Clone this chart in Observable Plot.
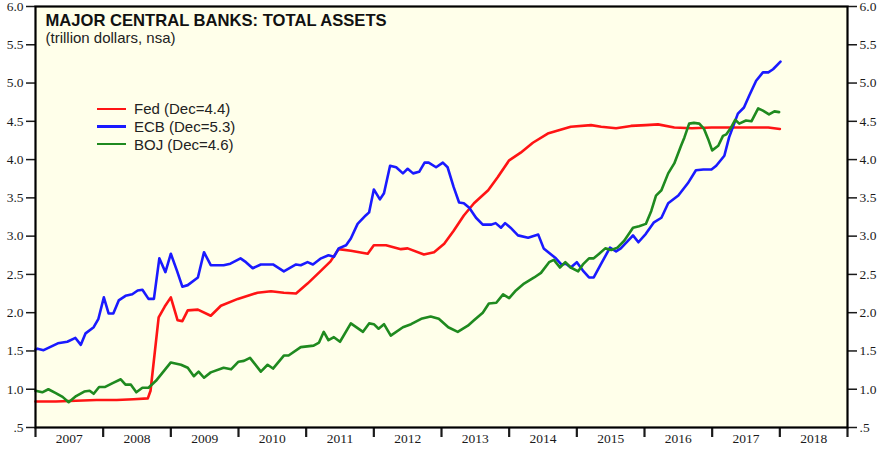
<!DOCTYPE html>
<html><head><meta charset="utf-8">
<script src="https://cdn.jsdelivr.net/npm/d3@7"></script>
<script src="https://cdn.jsdelivr.net/npm/@observablehq/plot@0.6"></script>
<style>
body{margin:0;background:#fff}
#wrap{position:relative;width:886px;height:451px}
#legend{position:absolute;left:97px;top:100px;font-family:"Liberation Sans",Arial,sans-serif;font-size:15px;color:#222}
.row{display:flex;align-items:center;height:17.7px;white-space:nowrap}
.sw{width:29px;height:2.5px;margin-right:8px}
</style></head>
<body><div id="wrap"></div>
<script>
const titleText = "MAJOR CENTRAL BANKS: TOTAL ASSETS";
const subtitleText = "(trillion dollars, nsa)";
const seriesNames = ["Fed (Dec=4.4)", "ECB (Dec=5.3)", "BOJ (Dec=4.6)"];
const seriesColors = ["#ff1414", "#1a1aff", "#1f8a1f"];
const yTicks = [0.5,1,1.5,2,2.5,3,3.5,4,4.5,5,5.5,6];
const yearTicks = [2007,2008,2009,2010,2011,2012,2013,2014,2015,2016,2017,2018,2019];
const yearLabels = [2007,2008,2009,2010,2011,2012,2013,2014,2015,2016,2017,2018];

// [decimal year, trillion dollars]
const fed = [[2007.00,0.84],[2007.30,0.84],[2007.60,0.85],[2007.90,0.86],[2008.20,0.86],[2008.45,0.87],[2008.66,0.88],[2008.70,0.98],[2008.82,1.94],[2008.91,2.08],[2009.00,2.20],[2009.10,1.90],[2009.17,1.89],[2009.25,2.03],[2009.40,2.04],[2009.59,1.96],[2009.74,2.09],[2009.99,2.18],[2010.28,2.26],[2010.48,2.28],[2010.67,2.26],[2010.85,2.25],[2011.02,2.38],[2011.22,2.55],[2011.36,2.67],[2011.48,2.83],[2011.66,2.81],[2011.91,2.77],[2012.00,2.88],[2012.18,2.88],[2012.40,2.83],[2012.50,2.84],[2012.74,2.76],[2012.89,2.79],[2013.04,2.90],[2013.18,3.07],[2013.33,3.27],[2013.48,3.43],[2013.69,3.60],[2013.83,3.77],[2014.00,3.99],[2014.17,4.09],[2014.35,4.22],[2014.57,4.34],[2014.91,4.43],[2015.21,4.45],[2015.36,4.43],[2015.58,4.41],[2015.80,4.44],[2016.02,4.45],[2016.20,4.46],[2016.44,4.42],[2016.70,4.41],[2016.99,4.42],[2017.30,4.42],[2017.58,4.42],[2017.83,4.42],[2018.00,4.40]];

const ecb = [[2007.00,1.52],[2007.03,1.53],[2007.12,1.51],[2007.33,1.60],[2007.47,1.62],[2007.59,1.67],[2007.67,1.58],[2007.74,1.73],[2007.86,1.81],[2007.93,1.92],[2008.01,2.20],[2008.08,1.99],[2008.15,1.99],[2008.23,2.16],[2008.33,2.22],[2008.43,2.24],[2008.51,2.29],[2008.58,2.30],[2008.67,2.18],[2008.75,2.18],[2008.83,2.71],[2008.92,2.53],[2009.00,2.77],[2009.09,2.55],[2009.17,2.34],[2009.25,2.36],[2009.40,2.46],[2009.49,2.79],[2009.59,2.62],[2009.78,2.62],[2009.88,2.64],[2010.03,2.71],[2010.11,2.66],[2010.21,2.58],[2010.33,2.63],[2010.51,2.63],[2010.67,2.54],[2010.85,2.63],[2010.92,2.62],[2011.02,2.66],[2011.10,2.63],[2011.22,2.71],[2011.33,2.75],[2011.41,2.73],[2011.48,2.84],[2011.59,2.88],[2011.66,2.97],[2011.76,3.16],[2011.88,3.27],[2011.93,3.31],[2012.00,3.61],[2012.09,3.48],[2012.15,3.56],[2012.24,3.92],[2012.33,3.90],[2012.43,3.82],[2012.50,3.88],[2012.58,3.82],[2012.67,3.84],[2012.75,3.96],[2012.81,3.96],[2012.92,3.90],[2013.02,3.96],[2013.09,3.90],[2013.18,3.64],[2013.26,3.44],[2013.33,3.43],[2013.41,3.37],[2013.51,3.24],[2013.61,3.15],[2013.73,3.15],[2013.80,3.17],[2013.88,3.11],[2013.94,3.17],[2014.02,3.11],[2014.13,3.01],[2014.28,2.98],[2014.43,3.02],[2014.51,2.84],[2014.62,2.76],[2014.69,2.71],[2014.77,2.63],[2014.84,2.64],[2014.91,2.59],[2015.00,2.66],[2015.09,2.55],[2015.18,2.46],[2015.25,2.46],[2015.36,2.64],[2015.49,2.85],[2015.58,2.80],[2015.65,2.84],[2015.80,2.98],[2015.83,3.01],[2015.91,2.92],[2016.02,3.03],[2016.14,3.18],[2016.25,3.24],[2016.35,3.43],[2016.50,3.53],[2016.64,3.69],[2016.76,3.86],[2016.87,3.87],[2016.99,3.87],[2017.06,3.92],[2017.18,4.05],[2017.25,4.29],[2017.38,4.60],[2017.47,4.68],[2017.55,4.84],[2017.65,5.03],[2017.75,5.14],[2017.83,5.14],[2017.90,5.18],[2018.01,5.28]];

const boj = [[2007.00,0.98],[2007.10,0.96],[2007.19,1.00],[2007.30,0.95],[2007.40,0.90],[2007.49,0.83],[2007.60,0.91],[2007.72,0.97],[2007.80,0.98],[2007.86,0.94],[2007.94,1.03],[2008.03,1.03],[2008.14,1.08],[2008.26,1.13],[2008.33,1.06],[2008.41,1.06],[2008.49,0.96],[2008.58,1.02],[2008.67,1.02],[2008.78,1.11],[2009.00,1.35],[2009.15,1.32],[2009.25,1.28],[2009.34,1.17],[2009.41,1.23],[2009.49,1.15],[2009.59,1.22],[2009.78,1.28],[2009.89,1.26],[2010.00,1.36],[2010.08,1.37],[2010.17,1.41],[2010.33,1.23],[2010.43,1.32],[2010.51,1.27],[2010.67,1.44],[2010.74,1.44],[2010.92,1.55],[2011.11,1.57],[2011.19,1.61],[2011.26,1.75],[2011.33,1.64],[2011.41,1.68],[2011.50,1.62],[2011.66,1.86],[2011.84,1.75],[2011.93,1.86],[2012.00,1.85],[2012.07,1.79],[2012.15,1.85],[2012.25,1.70],[2012.43,1.81],[2012.55,1.85],[2012.70,1.92],[2012.84,1.95],[2012.96,1.92],[2013.10,1.81],[2013.24,1.75],[2013.39,1.83],[2013.48,1.90],[2013.61,2.00],[2013.70,2.12],[2013.81,2.13],[2013.91,2.24],[2014.00,2.19],[2014.10,2.29],[2014.22,2.38],[2014.37,2.46],[2014.47,2.52],[2014.59,2.66],[2014.66,2.69],[2014.75,2.59],[2014.83,2.66],[2014.91,2.59],[2015.02,2.54],[2015.09,2.63],[2015.18,2.71],[2015.25,2.71],[2015.33,2.77],[2015.42,2.84],[2015.51,2.82],[2015.60,2.85],[2015.70,2.94],[2015.83,3.11],[2015.92,3.13],[2016.02,3.16],[2016.10,3.33],[2016.17,3.53],[2016.25,3.60],[2016.35,3.82],[2016.44,3.95],[2016.54,4.18],[2016.59,4.29],[2016.66,4.47],[2016.73,4.48],[2016.81,4.47],[2016.88,4.40],[2016.94,4.27],[2017.00,4.12],[2017.09,4.18],[2017.16,4.31],[2017.21,4.33],[2017.28,4.42],[2017.34,4.52],[2017.40,4.47],[2017.50,4.51],[2017.58,4.50],[2017.68,4.67],[2017.75,4.64],[2017.84,4.59],[2017.92,4.63],[2017.99,4.62]];

const seriesData = [fed, ecb, boj];
const rows = seriesData.flatMap((s, i) => s.map(([t, v]) => ({t, v, name: seriesNames[i]})));
const fmt = d => d === 0.5 ? ".5" : d.toFixed(1);
const axisFont = {fontFamily: "Liberation Serif, Times New Roman, serif", fontSize: 13.5};

const chart = Plot.plot({
  width: 886, height: 451,
  marginLeft: 35, marginRight: 39, marginTop: 6, marginBottom: 24,
  style: {background: "#fff", color: "#1a1a1a", overflow: "visible"},
  x: {domain: [2007, 2019], axis: null},
  y: {domain: [0.5, 6], axis: null},
  color: {domain: seriesNames, range: seriesColors},
  marks: [
    Plot.frame({fill: "#ffffea"}),
    Plot.axisY({anchor: "left", label: null, ticks: yTicks, tickSize: 9, tickPadding: 3, tickFormat: fmt, strokeWidth: 1.5, ...axisFont}),
    Plot.axisY({anchor: "right", label: null, ticks: yTicks, tickSize: 9, tickPadding: 3, tickFormat: fmt, strokeWidth: 1.5, ...axisFont}),
    Plot.axisX({anchor: "bottom", label: null, ticks: yearTicks, tickSize: 10, tickFormat: () => "", strokeWidth: 2.2}),
    Plot.axisX({anchor: "bottom", label: null, ticks: yearLabels.map(y => y + 0.5), tickSize: 0, tickPadding: 6, tickFormat: d => String(Math.floor(d)), ...axisFont}),
    Plot.line(rows, {x: "t", y: "v", z: "name", stroke: "name", strokeWidth: 2.6, strokeLinejoin: "round"}),
    Plot.frame({stroke: "#000", strokeWidth: 2.2}),
    Plot.text([titleText], {text: d => d, frameAnchor: "top-left", dx: 10, dy: 19, lineAnchor: "bottom", textAnchor: "start", fontFamily: "Liberation Sans, Arial, sans-serif", fontWeight: "bold", fontSize: 16.6, fill: "#111"}),
    Plot.text([subtitleText], {text: d => d, frameAnchor: "top-left", dx: 10, dy: 36, lineAnchor: "bottom", textAnchor: "start", fontFamily: "Liberation Sans, Arial, sans-serif", fontSize: 15, fill: "#222"})
  ]
});
const wrap = document.getElementById("wrap");
wrap.appendChild(chart);
const legend = document.createElement("div");
legend.id = "legend";
seriesNames.forEach((n, i) => {
  const r = document.createElement("div");
  r.className = "row";
  const sw = document.createElement("span");
  sw.className = "sw";
  sw.style.background = seriesColors[i];
  const tx = document.createElement("span");
  tx.textContent = n;
  r.appendChild(sw); r.appendChild(tx);
  legend.appendChild(r);
});
wrap.appendChild(legend);
</script></body></html>
